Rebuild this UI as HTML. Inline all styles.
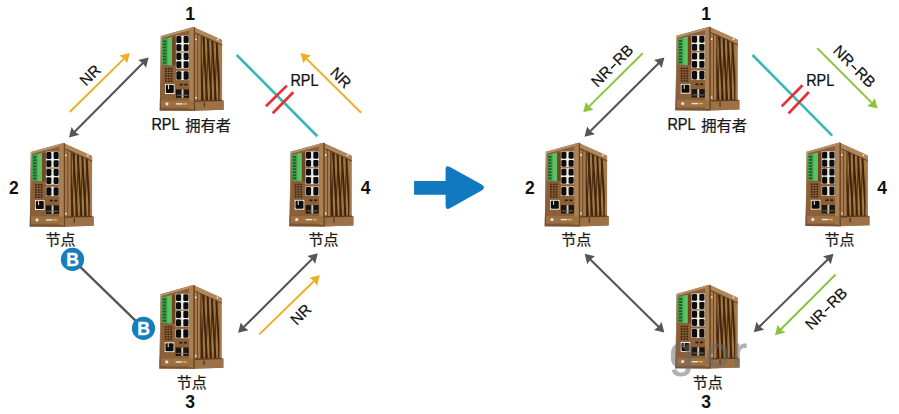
<!DOCTYPE html>
<html><head><meta charset="utf-8"><title>ERPS ring</title>
<style>html,body{margin:0;padding:0;background:#fff;}body{width:899px;height:414px;overflow:hidden;font-family:"Liberation Sans",sans-serif;}svg{display:block;}</style>
</head><body>
<svg width="899" height="414" viewBox="0 0 899 414" font-family="'Liberation Sans', sans-serif" fill="#111">
<defs><filter id="soft" x="-5%" y="-5%" width="110%" height="110%"><feGaussianBlur stdDeviation="0.55"/></filter><linearGradient id="edgeg" x1="0" y1="0" x2="0" y2="1"><stop offset="0" stop-color="#c9a686"/><stop offset="0.45" stop-color="#a57c58"/><stop offset="1" stop-color="#6c4628"/></linearGradient><g id="dev" filter="url(#soft)"><polygon points="33,1.6 61.2,14.3 61.7,15.5 61.7,75 63.3,75 63.3,84.3 33,85.3" fill="#a67a4d"/><clipPath id="sideclip"><polygon points="40.2,8.8 59.2,17.3 59.2,75.2 40.2,75.6"/></clipPath><g clip-path="url(#sideclip)"><rect x="40" y="4" width="22" height="74" fill="#9c7a42"/><polygon points="33.00,5 34.90,5 39.40,80 37.50,80" fill="#42210d"/><polygon points="37.30,5 39.20,5 43.70,80 41.80,80" fill="#42210d"/><polygon points="41.60,5 43.50,5 48.00,80 46.10,80" fill="#42210d"/><polygon points="45.90,5 47.80,5 52.30,80 50.40,80" fill="#42210d"/><polygon points="50.20,5 52.10,5 56.60,80 54.70,80" fill="#42210d"/><polygon points="54.50,5 56.40,5 60.90,80 59.00,80" fill="#42210d"/><polygon points="58.80,5 60.70,5 65.20,80 63.30,80" fill="#42210d"/><polygon points="63.10,5 65.00,5 69.50,80 67.60,80" fill="#42210d"/><polygon points="39.50,5 40.70,5 37.20,80 36.00,80" fill="#42210d" opacity="0.8"/><polygon points="43.80,5 45.00,5 41.50,80 40.30,80" fill="#42210d" opacity="0.8"/><polygon points="48.10,5 49.30,5 45.80,80 44.60,80" fill="#42210d" opacity="0.8"/><polygon points="52.40,5 53.60,5 50.10,80 48.90,80" fill="#42210d" opacity="0.8"/><polygon points="56.70,5 57.90,5 54.40,80 53.20,80" fill="#42210d" opacity="0.8"/><polygon points="61.00,5 62.20,5 58.70,80 57.50,80" fill="#42210d" opacity="0.8"/><polygon points="65.30,5 66.50,5 63.00,80 61.80,80" fill="#42210d" opacity="0.8"/><polygon points="69.60,5 70.80,5 67.30,80 66.10,80" fill="#42210d" opacity="0.8"/><rect x="40.2" y="4" width="1.1" height="74" fill="#4a2812"/></g><polygon points="33,1.6 61.2,14.3 61.7,15.5 61.7,19.2 33,6.2" fill="#b1875a"/><polygon points="34.6,6.9 61.7,19.2 61.7,20.3 34.6,8.1" fill="#6b4628"/><polygon points="33,75.6 63.3,75 63.3,84.3 33,85.3" fill="#9c7147"/><polygon points="34.6,75.1 61.7,74.4 61.7,75.6 34.6,76.4" fill="#5a3820"/><rect x="43.4" y="77" width="1.1" height="4.5" fill="#4a2c17"/><rect x="36.9" y="8" width="1.0" height="67" fill="#6e4a2b"/><rect x="33" y="1.8" width="1.7" height="83.4" fill="#6a4528"/><circle cx="35.6" cy="13.9" r="0.9" fill="#f4efe6"/><circle cx="57.4" cy="14.1" r="0.9" fill="#f4efe6"/><circle cx="35.6" cy="72.3" r="0.9" fill="#f4efe6"/><polygon points="0.4,10.7 33,1.6 33,85.3 -0.6,85.1" fill="#8b5e37"/><polygon points="0.4,10.7 33,1.6 33,3.8 0.4,12.8" fill="#b8906a"/><polygon points="29,3.4 33,2.2 33,85.3 29,85.3" fill="#ad8253"/><polygon points="1.6,13.4 11.8,11.8 11.8,39.8 1.6,39.6" fill="#46a04f"/><polygon points="7.2,12.5 11.8,11.8 11.8,39.8 7.2,39.7" fill="#5cc163"/><polygon points="11.8,11.8 15.3,11.0 15.3,40 11.8,39.8" fill="#6f4424"/><rect x="2.6" y="15.00" width="3.4" height="1.7" fill="#1e5a29"/><rect x="2.6" y="18.05" width="3.4" height="1.7" fill="#1e5a29"/><rect x="2.6" y="21.10" width="3.4" height="1.7" fill="#1e5a29"/><rect x="2.6" y="24.15" width="3.4" height="1.7" fill="#1e5a29"/><rect x="2.6" y="27.20" width="3.4" height="1.7" fill="#1e5a29"/><rect x="2.6" y="30.25" width="3.4" height="1.7" fill="#1e5a29"/><rect x="2.6" y="33.30" width="3.4" height="1.7" fill="#1e5a29"/><rect x="2.6" y="36.35" width="3.4" height="1.7" fill="#1e5a29"/><rect x="15.5" y="10.3" width="13.2" height="15.8" fill="#efece6"/><rect x="15.90" y="10.70" width="5.10" height="6.85" rx="1.3" fill="#100e0c"/><rect x="15.90" y="18.85" width="5.10" height="6.85" rx="1.3" fill="#100e0c"/><rect x="23.20" y="10.70" width="5.10" height="6.85" rx="1.3" fill="#100e0c"/><rect x="23.20" y="18.85" width="5.10" height="6.85" rx="1.3" fill="#100e0c"/><rect x="15.5" y="27.2" width="13.2" height="15.9" fill="#efece6"/><rect x="15.90" y="27.60" width="5.10" height="6.90" rx="1.3" fill="#100e0c"/><rect x="15.90" y="35.80" width="5.10" height="6.90" rx="1.3" fill="#100e0c"/><rect x="23.20" y="27.60" width="5.10" height="6.90" rx="1.3" fill="#100e0c"/><rect x="23.20" y="35.80" width="5.10" height="6.90" rx="1.3" fill="#100e0c"/><rect x="15.5" y="45.4" width="13.2" height="9.3" fill="#efece6"/><rect x="15.90" y="45.80" width="5.10" height="8.50" rx="1.3" fill="#100e0c"/><rect x="23.20" y="45.80" width="5.10" height="8.50" rx="1.3" fill="#100e0c"/><rect x="4.60" y="42.60" width="1.8" height="1.5" fill="#3a2414"/><rect x="7.40" y="42.60" width="1.8" height="1.5" fill="#3a2414"/><rect x="10.20" y="42.60" width="1.8" height="1.5" fill="#3a2414"/><rect x="4.60" y="45.10" width="1.8" height="1.5" fill="#3a2414"/><rect x="7.40" y="45.10" width="1.8" height="1.5" fill="#3a2414"/><rect x="10.20" y="45.10" width="1.8" height="1.5" fill="#3a2414"/><rect x="4.60" y="47.60" width="1.8" height="1.5" fill="#3a2414"/><rect x="7.40" y="47.60" width="1.8" height="1.5" fill="#3a2414"/><rect x="10.20" y="47.60" width="1.8" height="1.5" fill="#3a2414"/><rect x="4.60" y="50.10" width="1.8" height="1.5" fill="#3a2414"/><rect x="7.40" y="50.10" width="1.8" height="1.5" fill="#3a2414"/><rect x="10.20" y="50.10" width="1.8" height="1.5" fill="#3a2414"/><rect x="4.60" y="52.60" width="1.8" height="1.5" fill="#3a2414"/><rect x="7.40" y="52.60" width="1.8" height="1.5" fill="#3a2414"/><rect x="10.20" y="52.60" width="1.8" height="1.5" fill="#3a2414"/><rect x="4.60" y="55.10" width="1.8" height="1.5" fill="#3a2414"/><rect x="7.40" y="55.10" width="1.8" height="1.5" fill="#3a2414"/><rect x="10.20" y="55.10" width="1.8" height="1.5" fill="#3a2414"/><rect x="19.3" y="58.4" width="3" height="1.6" fill="#2c1a0c"/><rect x="24" y="58.4" width="3" height="1.6" fill="#2c1a0c"/><rect x="4.6" y="58.8" width="9.6" height="9.8" fill="#efece6"/><rect x="5.4" y="59.7" width="8.0" height="8.0" rx="1" fill="#100e0c"/><rect x="7.6" y="59.6" width="1.1" height="4.2" fill="#d8d4cc"/><rect x="15.6" y="64" width="13" height="8.4" fill="#1c1611"/><rect x="21.2" y="64" width="1.9" height="8.4" fill="#cfcac2"/><rect x="16.4" y="69.4" width="11.4" height="0.9" fill="#7d776e"/><polygon points="-0.5,74.8 33,75.1 33,82.4 -0.6,82.2" fill="#9b7045"/><circle cx="6.6" cy="78.4" r="1.6" fill="#ece4d6"/><rect x="15.5" y="77.8" width="6.4" height="1.4" fill="#ece4d6"/><rect x="22.6" y="77.8" width="4" height="1.4" fill="#e9b43c"/><polygon points="0.4,10.9 1.4,10.6 0.5,85.1 -0.6,85.1" fill="url(#edgeg)"/><polygon points="-0.6,83.2 33,83.4 33,85.3 -0.6,85.1" fill="#7a5230"/></g></defs>
<rect width="899" height="414" fill="#fff"/>
<polygon points="69.00,137.50 71.58,127.10 74.78,131.68 79.39,134.85" fill="#555555"/><line x1="74.43" y1="132.04" x2="143.17" y2="62.86" stroke="#555555" stroke-width="2.1"/><polygon points="148.60,57.40 146.02,67.80 142.82,63.22 138.21,60.05" fill="#555555"/>
<line x1="69.70" y1="112.00" x2="124.31" y2="58.39" stroke="#EFAE25" stroke-width="2.0"/><polygon points="129.80,53.00 127.09,63.37 123.95,58.74 119.38,55.52" fill="#EFAE25"/>
<line x1="236.7" y1="55" x2="317.3" y2="136.3" stroke="#38BAB4" stroke-width="2.65"/>
<line x1="265.9" y1="106.3" x2="286.9" y2="85.6" stroke="#EA2D2E" stroke-width="2.65"/>
<line x1="272.7" y1="113.3" x2="293.3" y2="92.3" stroke="#EA2D2E" stroke-width="2.65"/>
<line x1="361.10" y1="112.80" x2="306.08" y2="58.41" stroke="#EFAE25" stroke-width="2.0"/><polygon points="300.60,53.00 311.01,55.56 306.43,58.76 303.28,63.38" fill="#EFAE25"/>
<line x1="72.5" y1="259.4" x2="143.5" y2="328.3" stroke="#555555" stroke-width="2.3"/>
<polygon points="238.10,332.80 240.73,322.41 243.91,327.01 248.50,330.20" fill="#555555"/><line x1="243.55" y1="327.36" x2="312.35" y2="258.74" stroke="#555555" stroke-width="2.1"/><polygon points="317.80,253.30 315.17,263.69 311.99,259.09 307.40,255.90" fill="#555555"/>
<line x1="259.30" y1="334.40" x2="314.29" y2="280.68" stroke="#EFAE25" stroke-width="2.0"/><polygon points="319.80,275.30 317.06,285.66 313.93,281.03 309.38,277.79" fill="#EFAE25"/>
<circle cx="72.5" cy="259.4" r="11.6" fill="#187dbc"/>
<text x="72.6" y="265.7" font-size="17.6" font-weight="bold" fill="#fff" stroke="#fff" stroke-width="0.3" text-anchor="middle">B</text>
<circle cx="143.5" cy="328.3" r="11.6" fill="#187dbc"/>
<text x="143.6" y="334.6" font-size="17.6" font-weight="bold" fill="#fff" stroke="#fff" stroke-width="0.3" text-anchor="middle">B</text>
<path d="M414.1 180.9 H445.6 V169.6 Q445.6 164.6 450 167 L481.6 184.6 Q486.4 187.7 481.6 190.6 L450 208.3 Q445.6 210.6 445.6 205.6 V194.7 H414.1 Z" fill="#1179BF"/>
<polygon points="584.50,136.80 587.16,126.42 590.32,131.02 594.90,134.22" fill="#555555"/><line x1="589.97" y1="131.38" x2="658.93" y2="62.92" stroke="#555555" stroke-width="2.1"/><polygon points="664.40,57.50 661.74,67.88 658.58,63.28 654.00,60.08" fill="#555555"/>
<line x1="642.70" y1="53.20" x2="588.66" y2="106.87" stroke="#8AC43C" stroke-width="2.0"/><polygon points="583.20,112.30 585.85,101.91 589.02,106.52 593.60,109.72" fill="#8AC43C"/>
<line x1="752.5" y1="55" x2="832.2" y2="135.6" stroke="#38BAB4" stroke-width="2.65"/>
<line x1="781.7" y1="106.4" x2="802.5" y2="85.2" stroke="#EA2D2E" stroke-width="2.65"/>
<line x1="788.6" y1="113.3" x2="808.9" y2="92" stroke="#EA2D2E" stroke-width="2.65"/>
<line x1="817.20" y1="48.10" x2="872.06" y2="103.15" stroke="#8AC43C" stroke-width="2.0"/><polygon points="877.50,108.60 867.11,105.97 871.71,102.79 874.90,98.20" fill="#8AC43C"/>
<polygon points="584.60,253.80 595.01,256.35 590.43,259.56 587.28,264.18" fill="#555555"/><line x1="590.08" y1="259.21" x2="658.82" y2="327.09" stroke="#555555" stroke-width="2.1"/><polygon points="664.30,332.50 653.89,329.95 658.47,326.74 661.62,322.12" fill="#555555"/>
<polygon points="753.80,332.20 756.50,321.83 759.65,326.45 764.22,329.67" fill="#555555"/><line x1="759.29" y1="326.80" x2="828.01" y2="259.20" stroke="#555555" stroke-width="2.1"/><polygon points="833.50,253.80 830.80,264.17 827.65,259.55 823.08,256.33" fill="#555555"/>
<line x1="835.60" y1="274.50" x2="780.44" y2="329.75" stroke="#8AC43C" stroke-width="2.0"/><polygon points="775.00,335.20 777.61,324.80 780.79,329.40 785.39,332.58" fill="#8AC43C"/>
<use href="#dev" x="160.4" y="25.4"/>
<use href="#dev" x="30.4" y="141.4"/>
<use href="#dev" x="290.1" y="141.1"/>
<use href="#dev" x="160.1" y="283.5"/>
<use href="#dev" x="676.1" y="25.1"/>
<use href="#dev" x="545.4" y="141.1"/>
<use href="#dev" x="806.2" y="141.0"/>
<use href="#dev" x="676.1" y="283.2"/>
<g font-size="43" fill="#6a6a6a" stroke="#6a6a6a" stroke-width="1.0" opacity="0.52"><text x="669.6" y="366.6">g</text><text x="705.5" y="366.6">o</text><text x="732.5" y="366.6">r</text></g>
<text transform="translate(90,75) rotate(-45)" x="0" y="5.51" text-anchor="middle" font-size="15.4" font-weight="normal" stroke="#111" stroke-width="0.2">NR</text>
<text transform="translate(341,77.5) rotate(45)" x="0" y="5.51" text-anchor="middle" font-size="15.4" font-weight="normal" stroke="#111" stroke-width="0.2">NR</text>
<text transform="translate(300.6,314.3) rotate(-45)" x="0" y="5.51" text-anchor="middle" font-size="15.4" font-weight="normal" stroke="#111" stroke-width="0.2">NR</text>
<g transform="translate(612,65.6) rotate(-45)"><text x="-26.10" y="5.51" font-size="15.4" font-weight="normal" stroke="#111" stroke-width="0.2">NR</text><rect x="-2.68" y="0.66" width="6.2" height="1.35" fill="#111"/><text x="4.70" y="5.51" font-size="15.4" font-weight="normal" stroke="#111" stroke-width="0.2">RB</text></g>
<g transform="translate(854.6,66.1) rotate(45)"><text x="-26.10" y="5.51" font-size="15.4" font-weight="normal" stroke="#111" stroke-width="0.2">NR</text><rect x="-2.68" y="0.66" width="6.2" height="1.35" fill="#111"/><text x="4.70" y="5.51" font-size="15.4" font-weight="normal" stroke="#111" stroke-width="0.2">RB</text></g>
<g transform="translate(826,308.4) rotate(-45)"><text x="-26.10" y="5.51" font-size="15.4" font-weight="normal" stroke="#111" stroke-width="0.2">NR</text><rect x="-2.68" y="0.66" width="6.2" height="1.35" fill="#111"/><text x="4.70" y="5.51" font-size="15.4" font-weight="normal" stroke="#111" stroke-width="0.2">RB</text></g>
<text transform="translate(290.4,85.7) scale(0.885,1)" x="0" y="0" font-size="16.3" font-weight="normal" text-anchor="start" stroke="#111" stroke-width="0.25">RPL</text>
<text transform="translate(806.2,85.8) scale(0.885,1)" x="0" y="0" font-size="16.3" font-weight="normal" text-anchor="start" stroke="#111" stroke-width="0.25">RPL</text>
<text transform="translate(190.2,19.8) scale(1.0,1)" x="0" y="0" font-size="17.5" font-weight="bold" text-anchor="middle">1</text>
<text transform="translate(190.2,408.4) scale(1.0,1)" x="0" y="0" font-size="17.5" font-weight="bold" text-anchor="middle">3</text>
<text transform="translate(151.4,130) scale(0.885,1)" x="0" y="0" font-size="16.3" font-weight="normal" text-anchor="start" stroke="#111" stroke-width="0.25">RPL</text>
<text x="185.2" y="130.6" font-size="15.3" fill="#1a1a1a" stroke="#1a1a1a" stroke-width="0.23" font-family="'Liberation Sans', 'Noto Sans CJK SC', sans-serif">拥有者</text>
<text x="176.8" y="388.2" font-size="15" fill="#1a1a1a" stroke="#1a1a1a" stroke-width="0.23" font-family="'Liberation Sans', 'Noto Sans CJK SC', sans-serif">节点</text>
<text transform="translate(706.2,19.8) scale(1.0,1)" x="0" y="0" font-size="17.5" font-weight="bold" text-anchor="middle">1</text>
<text transform="translate(706.2,408.4) scale(1.0,1)" x="0" y="0" font-size="17.5" font-weight="bold" text-anchor="middle">3</text>
<text transform="translate(667.4,130) scale(0.885,1)" x="0" y="0" font-size="16.3" font-weight="normal" text-anchor="start" stroke="#111" stroke-width="0.25">RPL</text>
<text x="701.2" y="130.6" font-size="15.3" fill="#1a1a1a" stroke="#1a1a1a" stroke-width="0.23" font-family="'Liberation Sans', 'Noto Sans CJK SC', sans-serif">拥有者</text>
<text x="692.8" y="388.2" font-size="15" fill="#1a1a1a" stroke="#1a1a1a" stroke-width="0.23" font-family="'Liberation Sans', 'Noto Sans CJK SC', sans-serif">节点</text>
<text transform="translate(13.8,193.6) scale(1.0,1)" x="0" y="0" font-size="17.5" font-weight="bold" text-anchor="middle">2</text>
<text transform="translate(529.9,193.8) scale(1.0,1)" x="0" y="0" font-size="17.5" font-weight="bold" text-anchor="middle">2</text>
<text transform="translate(365.7,193.8) scale(1.0,1)" x="0" y="0" font-size="17.5" font-weight="bold" text-anchor="middle">4</text>
<text transform="translate(882,193.8) scale(1.0,1)" x="0" y="0" font-size="17.5" font-weight="bold" text-anchor="middle">4</text>
<text x="45.6" y="244.8" font-size="15" fill="#1a1a1a" stroke="#1a1a1a" stroke-width="0.23" font-family="'Liberation Sans', 'Noto Sans CJK SC', sans-serif">节点</text>
<text x="308.6" y="244.8" font-size="15" fill="#1a1a1a" stroke="#1a1a1a" stroke-width="0.23" font-family="'Liberation Sans', 'Noto Sans CJK SC', sans-serif">节点</text>
<text x="561.2" y="244.8" font-size="15" fill="#1a1a1a" stroke="#1a1a1a" stroke-width="0.23" font-family="'Liberation Sans', 'Noto Sans CJK SC', sans-serif">节点</text>
<text x="824.6" y="244.8" font-size="15" fill="#1a1a1a" stroke="#1a1a1a" stroke-width="0.23" font-family="'Liberation Sans', 'Noto Sans CJK SC', sans-serif">节点</text>
</svg>
</body></html>
